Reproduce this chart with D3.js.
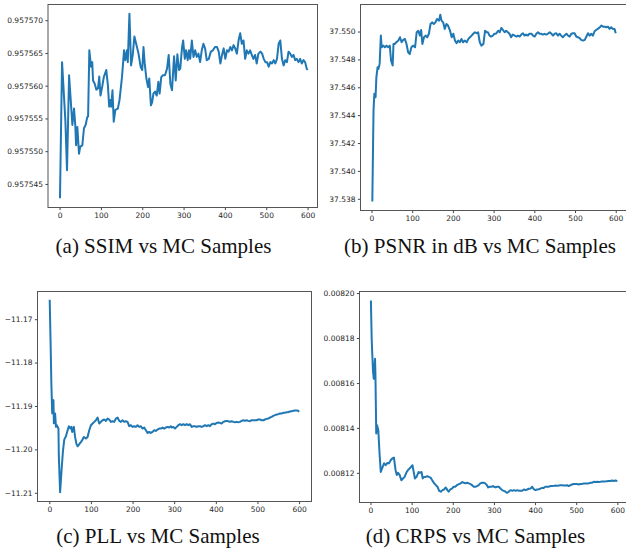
<!DOCTYPE html>
<html>
<head>
<meta charset="utf-8">
<script src="https://cdn.jsdelivr.net/npm/d3@7"></script>
<style>
  body { margin: 0; background: #fff; }
  svg { display: block; }
  .tick text { font-family: "DejaVu Sans", sans-serif; font-size: 7.5px; fill: #262626; }
  .tick line { stroke: #444; }
  .caption { font-family: "Liberation Serif", "Times New Roman", serif; font-size: 21px; fill: #111; }
</style>
</head>
<body>
<svg id="chart" width="626" height="550"></svg>
<script>
// MC sample counts and metric values
const ssimX = [1, 6, 14, 18, 23, 28, 31, 35, 38, 40, 43, 47, 50, 55, 59, 63, 67, 69, 72, 76, 79, 81, 85, 89, 93, 96, 99, 103, 107, 113, 117, 120, 123, 125, 128, 131, 135, 141, 145, 151, 156, 159, 163, 165, 169, 173, 177, 181, 186, 191, 196, 200, 203, 206, 210, 214, 217, 221, 224, 227, 231, 235, 239, 242, 246, 250, 255, 260, 264, 268, 272, 277, 281, 285, 289, 292, 296, 299, 303, 306, 310, 313, 316, 320, 324, 328, 332, 336, 340, 344, 348, 352, 356, 361, 366, 371, 376, 381, 385, 389, 393, 397, 401, 405, 409, 413, 417, 421, 425, 429, 433, 437, 441, 445, 449, 453, 457, 461, 465, 469, 473, 477, 481, 486, 490, 494, 498, 502, 506, 510, 514, 518, 522, 526, 530, 534, 538, 542, 546, 550, 554, 558, 562, 566, 570, 574, 578, 582, 586, 590, 594, 598, 600];
const ssimY = [0.9575428, 0.9575636, 0.9575547, 0.9575471, 0.9575616, 0.9575568, 0.9575540, 0.9575565, 0.9575540, 0.9575509, 0.9575537, 0.9575496, 0.9575507, 0.9575509, 0.9575535, 0.9575540, 0.9575552, 0.9575553, 0.9575654, 0.9575629, 0.9575636, 0.9575608, 0.9575603, 0.9575594, 0.9575596, 0.9575614, 0.9575585, 0.9575598, 0.9575613, 0.9575624, 0.9575600, 0.9575568, 0.9575578, 0.9575568, 0.9575593, 0.9575545, 0.9575563, 0.9575565, 0.9575578, 0.9575613, 0.9575654, 0.9575639, 0.9575654, 0.9575636, 0.9575710, 0.9575631, 0.9575647, 0.9575675, 0.9575662, 0.9575649, 0.9575629, 0.9575624, 0.9575659, 0.9575634, 0.9575611, 0.9575598, 0.9575611, 0.9575570, 0.9575575, 0.9575588, 0.9575591, 0.9575585, 0.9575606, 0.9575588, 0.9575613, 0.9575616, 0.9575616, 0.9575626, 0.9575647, 0.9575603, 0.9575593, 0.9575645, 0.9575608, 0.9575648, 0.9575624, 0.9575626, 0.9575657, 0.9575669, 0.9575641, 0.9575654, 0.9575639, 0.9575654, 0.9575641, 0.9575669, 0.9575644, 0.9575654, 0.9575644, 0.9575649, 0.9575636, 0.9575654, 0.9575664, 0.9575657, 0.9575639, 0.9575641, 0.9575652, 0.9575654, 0.9575659, 0.9575659, 0.9575652, 0.9575634, 0.9575647, 0.9575657, 0.9575641, 0.9575654, 0.9575652, 0.9575659, 0.9575654, 0.9575662, 0.9575657, 0.9575649, 0.9575669, 0.9575680, 0.9575664, 0.9575669, 0.9575641, 0.9575654, 0.9575649, 0.9575654, 0.9575647, 0.9575641, 0.9575647, 0.9575634, 0.9575649, 0.9575652, 0.9575649, 0.9575641, 0.9575636, 0.9575636, 0.9575629, 0.9575636, 0.9575634, 0.9575639, 0.9575634, 0.9575641, 0.9575664, 0.9575669, 0.9575641, 0.9575631, 0.9575639, 0.9575636, 0.9575652, 0.9575649, 0.9575644, 0.9575647, 0.9575639, 0.9575641, 0.9575636, 0.9575641, 0.9575634, 0.9575639, 0.9575636, 0.9575626, 0.9575624];

const psnrX = [2, 5, 7, 10, 12, 15, 17, 20, 23, 25, 29, 33, 37, 41, 45, 48, 52, 54, 57, 61, 66, 70, 74, 78, 82, 86, 90, 94, 98, 102, 107, 111, 115, 119, 122, 125, 129, 133, 137, 141, 145, 149, 153, 157, 161, 166, 169, 172, 176, 180, 184, 188, 193, 197, 201, 205, 209, 213, 217, 221, 225, 229, 234, 238, 242, 246, 250, 254, 258, 262, 266, 270, 275, 279, 283, 286, 290, 294, 298, 302, 306, 311, 315, 319, 323, 327, 331, 335, 339, 343, 347, 352, 356, 360, 364, 368, 372, 376, 380, 384, 388, 393, 397, 401, 405, 409, 413, 417, 421, 425, 429, 433, 438, 442, 446, 450, 454, 458, 462, 466, 470, 474, 479, 483, 487, 491, 495, 499, 503, 507, 511, 515, 520, 524, 528, 532, 536, 540, 544, 548, 552, 556, 561, 565, 569, 573, 577, 581, 585, 589, 593, 597, 600];
const psnrY = [37.53781, 37.54433, 37.54553, 37.54529, 37.54672, 37.54744, 37.54732, 37.54768, 37.54971, 37.54887, 37.54899, 37.54887, 37.54899, 37.54887, 37.54899, 37.54792, 37.54756, 37.54911, 37.54911, 37.54923, 37.54935, 37.54959, 37.54923, 37.54940, 37.54947, 37.54911, 37.54851, 37.54839, 37.54887, 37.54899, 37.54887, 37.54995, 37.55006, 37.54971, 37.55011, 37.54911, 37.54959, 37.54971, 37.54959, 37.54984, 37.55054, 37.55066, 37.55054, 37.55066, 37.55090, 37.55078, 37.55121, 37.55078, 37.55066, 37.55019, 37.55054, 37.55043, 37.55006, 37.54959, 37.54984, 37.54935, 37.54916, 37.54935, 37.54923, 37.54947, 37.54923, 37.54935, 37.54923, 37.54947, 37.54959, 37.54971, 37.54984, 37.54995, 37.54988, 37.54995, 37.54923, 37.54899, 37.54911, 37.55006, 37.54995, 37.54995, 37.54971, 37.54964, 37.54971, 37.54984, 37.54984, 37.55006, 37.54995, 37.55026, 37.55011, 37.54995, 37.55006, 37.54995, 37.54984, 37.54959, 37.54978, 37.54971, 37.54964, 37.54971, 37.54964, 37.54978, 37.54988, 37.54971, 37.54978, 37.54971, 37.54984, 37.54984, 37.54971, 37.54964, 37.54984, 37.54995, 37.54984, 37.54984, 37.54978, 37.54984, 37.54978, 37.54984, 37.54995, 37.54984, 37.54971, 37.54984, 37.54988, 37.54971, 37.54984, 37.54971, 37.54959, 37.54971, 37.54984, 37.54971, 37.54964, 37.54984, 37.54988, 37.54988, 37.54964, 37.54959, 37.54954, 37.54940, 37.54935, 37.54940, 37.54964, 37.54988, 37.54971, 37.54984, 37.54971, 37.55002, 37.55011, 37.55019, 37.55031, 37.55043, 37.55035, 37.55035, 37.55031, 37.55035, 37.55019, 37.55031, 37.55019, 37.55019, 37.54988];

const pllX = [1, 3, 5, 7, 10, 11, 14, 16, 18, 22, 23, 26, 30, 33, 36, 40, 44, 47, 51, 53, 55, 59, 62, 65, 68, 73, 78, 83, 88, 92, 96, 100, 104, 108, 112, 116, 120, 124, 128, 132, 136, 140, 144, 148, 152, 156, 160, 164, 168, 172, 176, 180, 184, 188, 192, 196, 200, 204, 208, 212, 216, 220, 224, 228, 232, 236, 240, 244, 248, 252, 256, 260, 264, 268, 272, 276, 280, 284, 288, 292, 294, 298, 302, 306, 310, 314, 318, 322, 326, 330, 334, 338, 342, 346, 350, 354, 358, 362, 366, 370, 374, 378, 382, 386, 390, 394, 398, 402, 406, 410, 414, 418, 422, 426, 430, 434, 438, 442, 446, 450, 454, 458, 462, 466, 470, 474, 478, 482, 486, 490, 494, 498, 502, 506, 510, 514, 518, 522, 526, 530, 534, 538, 542, 546, 550, 554, 558, 562, 566, 570, 574, 578, 582, 586, 590, 594, 598, 600];
const pllY = [-11.16553, -11.17478, -11.18480, -11.19170, -11.18865, -11.19400, -11.19172, -11.19480, -11.19443, -11.19520, -11.20175, -11.20985, -11.20407, -11.20021, -11.19775, -11.19697, -11.19559, -11.19466, -11.19520, -11.19482, -11.19597, -11.19482, -11.19713, -11.19867, -11.19929, -11.19867, -11.19805, -11.19713, -11.19751, -11.19713, -11.19559, -11.19443, -11.19405, -11.19366, -11.19328, -11.19266, -11.19405, -11.19366, -11.19328, -11.19312, -11.19343, -11.19289, -11.19312, -11.19366, -11.19351, -11.19366, -11.19289, -11.19266, -11.19343, -11.19366, -11.19328, -11.19366, -11.19351, -11.19366, -11.19466, -11.19443, -11.19482, -11.19466, -11.19482, -11.19443, -11.19482, -11.19466, -11.19520, -11.19497, -11.19559, -11.19620, -11.19597, -11.19620, -11.19597, -11.19559, -11.19574, -11.19543, -11.19520, -11.19520, -11.19497, -11.19520, -11.19497, -11.19482, -11.19497, -11.19466, -11.19497, -11.19482, -11.19520, -11.19482, -11.19443, -11.19420, -11.19443, -11.19420, -11.19443, -11.19420, -11.19443, -11.19420, -11.19482, -11.19466, -11.19466, -11.19482, -11.19466, -11.19466, -11.19482, -11.19466, -11.19443, -11.19466, -11.19443, -11.19466, -11.19420, -11.19405, -11.19420, -11.19389, -11.19381, -11.19389, -11.19405, -11.19366, -11.19351, -11.19343, -11.19351, -11.19366, -11.19351, -11.19366, -11.19374, -11.19366, -11.19374, -11.19366, -11.19343, -11.19328, -11.19343, -11.19328, -11.19343, -11.19351, -11.19328, -11.19328, -11.19328, -11.19328, -11.19312, -11.19312, -11.19328, -11.19328, -11.19312, -11.19297, -11.19289, -11.19266, -11.19250, -11.19227, -11.19212, -11.19197, -11.19189, -11.19173, -11.19173, -11.19158, -11.19158, -11.19143, -11.19143, -11.19127, -11.19119, -11.19112, -11.19104, -11.19104, -11.19112, -11.19135];

const crpsX = [1, 3, 6, 8, 11, 12, 14, 16, 19, 22, 25, 28, 33, 37, 41, 45, 49, 53, 57, 61, 64, 67, 71, 75, 79, 83, 87, 91, 95, 100, 102, 105, 108, 112, 117, 120, 124, 127, 130, 134, 138, 142, 146, 150, 155, 159, 163, 167, 171, 175, 179, 183, 187, 190, 194, 198, 202, 206, 210, 215, 219, 223, 227, 231, 235, 239, 243, 247, 251, 255, 259, 263, 267, 271, 275, 279, 283, 286, 290, 294, 298, 300, 304, 308, 312, 316, 320, 324, 328, 332, 336, 340, 345, 349, 353, 357, 361, 365, 369, 373, 377, 381, 385, 389, 393, 397, 401, 405, 409, 413, 417, 421, 425, 429, 433, 437, 442, 446, 450, 454, 458, 462, 466, 470, 474, 478, 482, 486, 490, 494, 498, 502, 506, 510, 514, 518, 522, 526, 530, 535, 539, 543, 547, 551, 555, 559, 563, 567, 571, 575, 579, 583, 587, 591, 595, 600];
const crpsY = [0.0081967, 0.0081790, 0.0081656, 0.0081619, 0.0081708, 0.0081642, 0.0081375, 0.0081412, 0.0081390, 0.0081286, 0.0081204, 0.0081219, 0.0081242, 0.0081234, 0.0081244, 0.0081242, 0.0081256, 0.0081264, 0.0081268, 0.0081212, 0.0081190, 0.0081200, 0.0081190, 0.0081167, 0.0081175, 0.0081182, 0.0081200, 0.0081212, 0.0081219, 0.0081230, 0.0081234, 0.0081204, 0.0081175, 0.0081182, 0.0081204, 0.0081200, 0.0081204, 0.0081175, 0.0081182, 0.0081182, 0.0081185, 0.0081182, 0.0081179, 0.0081167, 0.0081153, 0.0081145, 0.0081138, 0.0081120, 0.0081116, 0.0081123, 0.0081126, 0.0081135, 0.0081123, 0.0081116, 0.0081126, 0.0081130, 0.0081138, 0.0081138, 0.0081145, 0.0081150, 0.0081153, 0.0081159, 0.0081156, 0.0081153, 0.0081156, 0.0081153, 0.0081150, 0.0081145, 0.0081138, 0.0081138, 0.0081141, 0.0081145, 0.0081153, 0.0081156, 0.0081156, 0.0081153, 0.0081145, 0.0081135, 0.0081138, 0.0081138, 0.0081141, 0.0081138, 0.0081135, 0.0081138, 0.0081138, 0.0081130, 0.0081123, 0.0081120, 0.0081116, 0.0081111, 0.0081116, 0.0081123, 0.0081120, 0.0081123, 0.0081120, 0.0081123, 0.0081120, 0.0081120, 0.0081120, 0.0081126, 0.0081123, 0.0081126, 0.0081129, 0.0081130, 0.0081138, 0.0081127, 0.0081123, 0.0081126, 0.0081127, 0.0081130, 0.0081133, 0.0081133, 0.0081138, 0.0081138, 0.0081138, 0.0081141, 0.0081141, 0.0081142, 0.0081144, 0.0081142, 0.0081144, 0.0081145, 0.0081145, 0.0081144, 0.0081144, 0.0081145, 0.0081141, 0.0081145, 0.0081148, 0.0081150, 0.0081150, 0.0081150, 0.0081148, 0.0081150, 0.0081150, 0.0081153, 0.0081153, 0.0081153, 0.0081153, 0.0081156, 0.0081156, 0.0081160, 0.0081159, 0.0081160, 0.0081159, 0.0081160, 0.0081162, 0.0081162, 0.0081162, 0.0081163, 0.0081164, 0.0081164, 0.0081166, 0.0081164, 0.0081166, 0.0081164];

// tick labels
const xTicks = [0, 100, 200, 300, 400, 500, 600];
const ssimTicks = [0.957545, 0.957550, 0.957555, 0.957560, 0.957565, 0.957570];
const psnrTicks = [37.538, 37.540, 37.542, 37.544, 37.546, 37.548, 37.550];
const pllTicks = [-11.21, -11.20, -11.19, -11.18, -11.17];
const crpsTicks = [0.00812, 0.00814, 0.00816, 0.00818, 0.00820];
const captions = ["(a) SSIM vs MC Samples", "(b) PSNR in dB vs MC Samples", "(c) PLL vs MC Samples", "(d) CRPS vs MC Samples"];

const svg = d3.select("#chart");

const panels = [
  { xs: ssimX, ys: ssimY, ticks: ssimTicks, fmt: d3.format(".6f"), caption: captions[0],
    box: { left: 48, top: 4.5, right: 317.5, bottom: 207.5 },
    xDomain: [-28, 624], yDomain: [0.9575414, 0.9575724], capX: 163.5, capY: 253 },
  { xs: psnrX, ys: psnrY, ticks: psnrTicks, fmt: d3.format(".3f"), caption: captions[1],
    box: { left: 360.5, top: 4.5, right: 627, bottom: 210.5 },
    xDomain: [-27, 627.7], yDomain: [37.53716, 37.55194], capX: 480, capY: 253 },
  { xs: pllX, ys: pllY, ticks: pllTicks, fmt: d3.format(".2f"), caption: captions[2],
    box: { left: 37.5, top: 291.5, right: 311.5, bottom: 501.5 },
    xDomain: [-28.3, 629.8], yDomain: [-11.21201, -11.16362], capX: 158, capY: 543 },
  { xs: crpsX, ys: crpsY, ticks: crpsTicks, fmt: d3.format(".5f"), caption: captions[3],
    box: { left: 359.5, top: 291.5, right: 627, bottom: 502.5 },
    xDomain: [-26.7, 623.5], yDomain: [0.0081068, 0.0082007], capX: 475.5, capY: 543 }
];

panels.forEach(p => {
  const b = p.box;
  const x = d3.scaleLinear().domain(p.xDomain).range([b.left, b.right]);
  const y = d3.scaleLinear().domain(p.yDomain).range([b.bottom, b.top]);
  const g = svg.append("g");

  g.append("g")
    .attr("transform", `translate(0, ${b.bottom})`)
    .call(d3.axisBottom(x).tickValues(xTicks).tickSize(2.6).tickPadding(2.4).tickFormat(d3.format("d")))
    .call(a => a.select(".domain").remove());

  g.append("g")
    .attr("transform", `translate(${b.left}, 0)`)
    .call(d3.axisLeft(y).tickValues(p.ticks).tickSize(2.6).tickPadding(2.4).tickFormat(p.fmt))
    .call(a => a.select(".domain").remove());

  const line = d3.line()
    .x((d, i) => x(p.xs[i]))
    .y(d => y(d));

  g.append("path")
    .datum(p.ys)
    .attr("d", line)
    .attr("fill", "none")
    .attr("stroke", "#1f77b4")
    .attr("stroke-width", 2)
    .attr("stroke-linejoin", "round");

  g.append("rect")
    .attr("x", b.left)
    .attr("y", b.top)
    .attr("width", b.right - b.left)
    .attr("height", b.bottom - b.top)
    .attr("fill", "none")
    .attr("stroke", "#555")
    .attr("stroke-width", 1);

  svg.append("text")
    .attr("class", "caption")
    .attr("x", p.capX)
    .attr("y", p.capY)
    .attr("text-anchor", "middle")
    .text(p.caption);
});
</script>
</body>
</html>
